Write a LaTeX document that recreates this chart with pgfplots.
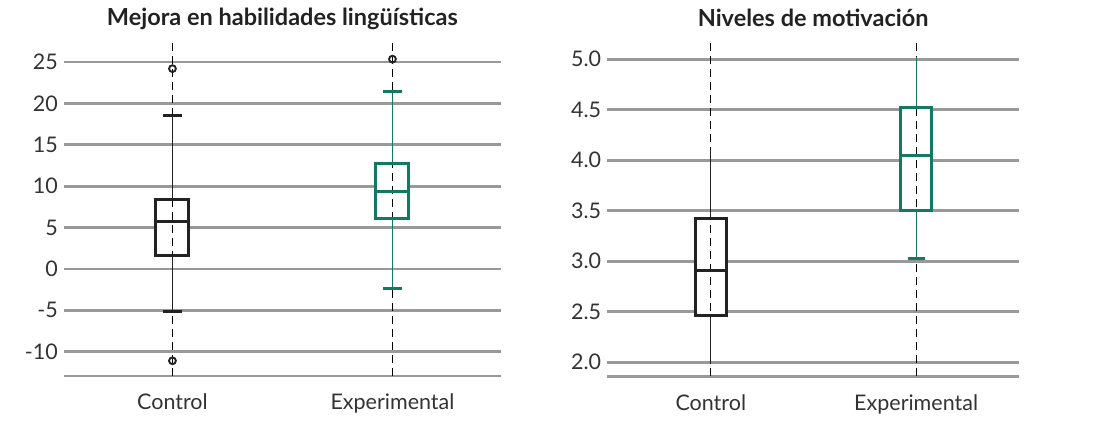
\documentclass[border=0pt]{standalone}
\usepackage{pgfplots}
\pgfplotsset{compat=1.18}
\usepgfplotslibrary{statistics}
\usepackage{fontspec}
\setmainfont{Lato}
\newfontfamily\titlefont{Lato}
\definecolor{gridgray}{HTML}{999999}
\definecolor{boxgreen}{HTML}{137A62}
\definecolor{boxblack}{HTML}{222222}
\definecolor{txt}{HTML}{333333}

\newcommand\lwline{\draw[line width=1.2pt] (boxplot box cs:\pgfplotsboxplotvalue{lower whisker},0.5) -- (boxplot box cs:\pgfplotsboxplotvalue{lower quartile},0.5);}
\newcommand\lwcap{\draw[line width=3pt] (boxplot whisker cs:\pgfplotsboxplotvalue{lower whisker},0) -- (boxplot whisker cs:\pgfplotsboxplotvalue{lower whisker},1);}
\newcommand\uwline{\draw[line width=1.2pt] (boxplot box cs:\pgfplotsboxplotvalue{upper whisker},0.5) -- (boxplot box cs:\pgfplotsboxplotvalue{upper quartile},0.5);}
\newcommand\uwcap{\draw[line width=3pt] (boxplot whisker cs:\pgfplotsboxplotvalue{upper whisker},0) -- (boxplot whisker cs:\pgfplotsboxplotvalue{upper whisker},1);}

\pgfplotsset{
  mybase/.style={
    scale only axis, height=333pt,
    axis x line*=bottom, axis y line*=left,
    x axis line style={draw=gridgray,line width=2.7pt},
    y axis line style={draw=none},
    major tick length=0pt, tick style={draw=none},
    ymajorgrids, grid style={draw=gridgray,line width=2.7pt},
    xtick={1,2}, xticklabels={Control,Experimental},
    ticklabel style={font=\fontsize{21.5}{25}\selectfont, text=txt},
    xticklabel style={anchor=base, yshift=-34pt},
    yticklabel style={anchor=east, inner sep=0pt, xshift=-6pt},
    title style={font=\titlefont\bfseries\fontsize{23.5}{28}\selectfont, text=boxblack, at={(0.5,1)}, anchor=base, yshift=11pt},
    clip=false,
    boxplot/draw direction=y,
    boxplot/box extend=0.15,
    boxplot/whisker extend=0.083,
    boxplot/every box/.style={line width=3pt},
    boxplot/every median/.style={line width=3pt},
  },
  fillpass/.style={
    boxplot/draw/box/.code={\fill[white] (boxplot box cs:\pgfplotsboxplotvalue{lower quartile},0) rectangle (boxplot box cs:\pgfplotsboxplotvalue{upper quartile},1);},
    boxplot/draw/lower whisker/.code={},
    boxplot/draw/upper whisker/.code={},
    boxplot/draw/median/.code={},
  },
  capsboth/.style={
    boxplot/draw/lower whisker/.code={\lwline\lwcap},
    boxplot/draw/upper whisker/.code={\uwline\uwcap},
  },
  capsnone/.style={
    boxplot/draw/lower whisker/.code={\lwline},
    boxplot/draw/upper whisker/.code={\uwline},
  },
  capslow/.style={
    boxplot/draw/lower whisker/.code={\lwline\lwcap},
    boxplot/draw/upper whisker/.code={\uwline},
  },
  outl/.style={mark=o, mark size=3.4pt, mark options={draw=boxblack, line width=1.9pt, solid}},
  vdash/.style={black, line width=1.2pt, dash pattern=on 8pt off 5pt},
}

\begin{document}
\begin{tikzpicture}
\path[use as bounding box] (0,0) rectangle (1095pt,433pt);

% Left panel
\begin{axis}[mybase, at={(64pt,57pt)}, anchor=south west,
  width=436.7pt, xmin=0.507, xmax=2.492, ymin=-12.94, ymax=27.3,
  ytick={-10,-5,0,5,10,15,20,25}, yticklabels={-10,-5,0,5,10,15,20,25},
  title={Mejora en habilidades lingüísticas}]
  \addplot[fillpass, boxplot prepared={draw position=1, lower whisker=-5.12, lower quartile=1.65, median=5.72, upper quartile=8.43, upper whisker=18.58}] coordinates {};
  \addplot[fillpass, boxplot prepared={draw position=2, lower whisker=-2.34, lower quartile=6.05, median=9.35, upper quartile=12.7, upper whisker=21.45}] coordinates {};
  \addplot[vdash] coordinates {(1,-12.94) (1,27.3)};
  \addplot[vdash] coordinates {(2,-12.94) (2,27.3)};
  \addplot[boxblack, capsboth, outl, boxplot prepared={draw position=1, lower whisker=-5.12, lower quartile=1.65, median=5.72, upper quartile=8.43, upper whisker=18.58}] coordinates {(0,24.2) (0,-11.1)};
  \addplot[boxgreen, capsboth, outl, boxplot prepared={draw position=2, lower whisker=-2.34, lower quartile=6.05, median=9.35, upper quartile=12.7, upper whisker=21.45}] coordinates {(0,25.35)};
\end{axis}

% Right panel
\begin{axis}[mybase, at={(607.3pt,56.7pt)}, anchor=south west,
  width=411.7pt, xmin=0.496, xmax=2.501, ymin=1.861, ymax=5.158,
  ytick={2,2.5,3,3.5,4,4.5,5}, yticklabels={2.0,2.5,3.0,3.5,4.0,4.5,5.0},
  title={Niveles de motivación}]
  \addplot[fillpass, boxplot prepared={draw position=1, lower whisker=1.98, lower quartile=2.458, median=2.904, upper quartile=3.426, upper whisker=4.1}] coordinates {};
  \addplot[fillpass, boxplot prepared={draw position=2, lower whisker=3.025, lower quartile=3.505, median=4.05, upper quartile=4.525, upper whisker=5.02}] coordinates {};
  \addplot[vdash] coordinates {(1,1.861) (1,5.158)};
  \addplot[vdash] coordinates {(2,1.861) (2,5.158)};
  \addplot[boxblack, capsnone, boxplot prepared={draw position=1, lower whisker=1.98, lower quartile=2.458, median=2.904, upper quartile=3.426, upper whisker=4.1}] coordinates {};
  \addplot[boxgreen, capslow, boxplot prepared={draw position=2, lower whisker=3.025, lower quartile=3.505, median=4.05, upper quartile=4.525, upper whisker=5.02}] coordinates {};
\end{axis}
\end{tikzpicture}
\end{document}
